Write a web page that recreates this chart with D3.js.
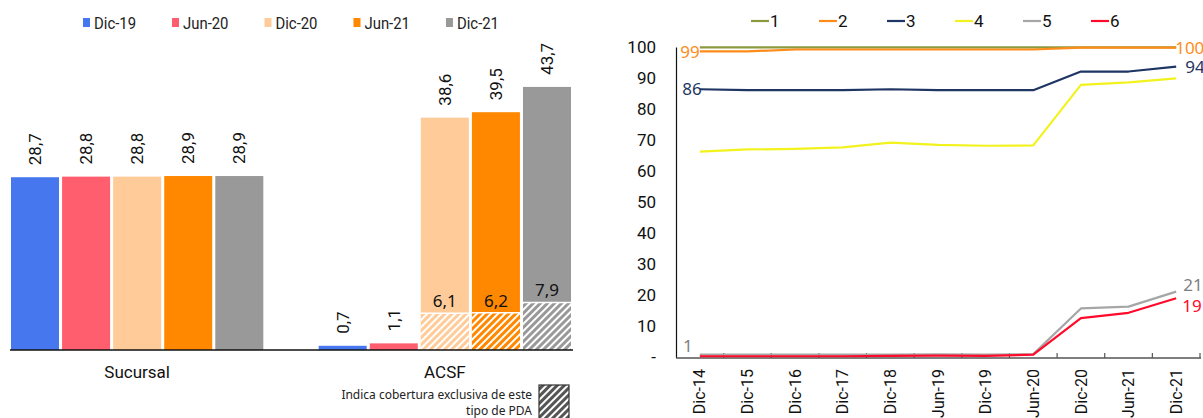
<!DOCTYPE html>
<html><head><meta charset="utf-8">
<script src="https://cdn.jsdelivr.net/npm/d3@7"></script>
<style>
html,body{margin:0;padding:0;background:#fff;}
svg{display:block;}
text{font-family:Roboto,"Noto Sans",sans-serif;}
</style></head>
<body>
<svg id="chart" width="1203" height="418"></svg>
<script>
// ---------- DATA ----------
const barCategories = ["Sucursal", "ACSF"];
const barSeries = ["Dic-19", "Jun-20", "Dic-20", "Jun-21", "Dic-21"];
const sucursalValues = [28.7, 28.8, 28.8, 28.9, 28.9];
const acsfValues = [0.7, 1.1, 38.6, 39.5, 43.7];
const acsfExclusive = [null, null, 6.1, 6.2, 7.9];
const noteLines = ["Indica cobertura exclusiva de este", "tipo de PDA"];

const lineDates = ["Dic-14","Dic-15","Dic-16","Dic-17","Dic-18","Jun-19","Dic-19","Jun-20","Dic-20","Jun-21","Dic-21"];
const lineNames = ["1", "2", "3", "4", "5", "6"];
const series1 = [99.9, 99.9, 99.9, 99.9, 99.9, 99.9, 99.9, 99.9, 99.9, 99.9, 99.9];
const series2 = [98.6, 98.6, 99.2, 99.2, 99.2, 99.2, 99.2, 99.2, 99.8, 99.8, 99.8];
const series3 = [86.4, 86.1, 86.1, 86.1, 86.4, 86.1, 86.1, 86.1, 92.1, 92.1, 93.7];
const series4 = [66.3, 67.0, 67.2, 67.7, 69.2, 68.5, 68.2, 68.3, 87.8, 88.6, 89.9];
const series5 = [0.9, 0.9, 0.9, 0.9, 0.9, 1.0, 0.9, 1.1, 15.8, 16.4, 21.2];
const series6 = [0.4, 0.4, 0.4, 0.4, 0.5, 0.6, 0.5, 0.9, 12.7, 14.4, 19.1];
const yTicks = [0, 10, 20, 30, 40, 50, 60, 70, 80, 90, 100];

// ---------- STYLE ----------
const barColors = ["#4677EE", "#FF5E6E", "#FFCC99", "#FF8800", "#999999"];
const lineColors = ["#8C9A3D", "#FF8C1A", "#1F3564", "#F2F21E", "#A6A6A6", "#FF0A2A"];
const labelColors = ["#8C9A3D", "#FF8C1A", "#1F3564", "#F2F21E", "#808080", "#FF0A2A"];

const svg = d3.select("#chart");
const defs = svg.append("defs");
function hatch(id, color, stripe) {
  const p = defs.append("pattern").attr("id", id).attr("patternUnits", "userSpaceOnUse")
    .attr("width", 5).attr("height", 5).attr("patternTransform", "rotate(45)");
  p.append("rect").attr("width", 5).attr("height", 5).attr("fill", "#fff");
  p.append("rect").attr("width", 3).attr("height", 5).attr("fill", stripe || color);
  return `url(#${id})`;
}
const hatchFills = barColors.map((c, i) => hatch("h" + i, c));
const noteFill = hatch("hnote", "#555", "#555");

const fmt = v => d3.format(".1f")(v).replace(".", ",");

// ---------- LEFT: BAR CHART ----------
const baseY = 350;
const yL = d3.scaleLinear().domain([0, 45]).range([baseY, baseY - 45 * 6.02]);
const x0 = d3.scaleBand().domain(barCategories).range([11, 571]).paddingInner(0.18).paddingOuter(0);
const x1 = d3.scaleBand().domain(barSeries).range([0, x0.bandwidth()]).paddingInner(0.06).paddingOuter(0);

const groups = [
  {cat: "Sucursal", values: sucursalValues, excl: barSeries.map(() => null)},
  {cat: "ACSF", values: acsfValues, excl: acsfExclusive}
];

const gBars = svg.append("g");
groups.forEach(g => {
  g.values.forEach((v, i) => {
    const bx = x0(g.cat) + x1(barSeries[i]);
    const bw = x1.bandwidth();
    gBars.append("rect").attr("x", bx).attr("y", yL(v)).attr("width", bw)
      .attr("height", baseY - yL(v)).attr("fill", barColors[i]);
    const e = g.excl[i];
    if (e != null) {
      gBars.append("rect").attr("x", bx).attr("y", yL(e)).attr("width", bw)
        .attr("height", baseY - yL(e)).attr("fill", hatchFills[i]);
      gBars.append("line").attr("x1", bx).attr("x2", bx + bw).attr("y1", yL(e)).attr("y2", yL(e))
        .attr("stroke", "#fff").attr("stroke-width", 1.5);
      gBars.append("text").attr("x", bx + bw / 2).attr("y", yL(e) - 6)
        .attr("text-anchor", "middle").attr("font-size", 17)
        .style("font-family", "'Noto Sans', sans-serif").attr("fill", "#111").text(fmt(e));
    }
    gBars.append("text")
      .attr("transform", `translate(${bx + bw / 2},${yL(v) - 12}) rotate(-90)`)
      .attr("dy", "0.35em").attr("text-anchor", "start").attr("font-size", 17)
      .attr("fill", "#111").text(fmt(v));
  });
  gBars.append("text").attr("x", x0(g.cat) + x0.bandwidth() / 2).attr("y", 378)
    .attr("text-anchor", "middle").attr("font-size", 17).attr("fill", "#111").text(g.cat);
});
svg.append("line").attr("x1", 10).attr("x2", 573).attr("y1", baseY).attr("y2", baseY)
  .attr("stroke", "#111").attr("stroke-width", 1.5);

// left legend
let lx = 83;
barSeries.forEach((s, i) => {
  svg.append("rect").attr("x", lx).attr("y", 18).attr("width", 7).attr("height", 9).attr("fill", barColors[i]);
  const t = svg.append("text").attr("x", lx + 11).attr("y", 29).attr("font-size", 16)
    .attr("fill", "#222").text(s);
  const w = t.node().getComputedTextLength();
  const target = w * 0.93;
  t.attr("textLength", target).attr("lengthAdjust", "spacingAndGlyphs");
  lx += 11 + target + 36;
});

// note
noteLines.forEach((l, i) => {
  svg.append("text").attr("x", 532).attr("y", 399 + i * 16).attr("text-anchor", "end")
    .attr("font-size", 12).style("font-family", "'Noto Sans', sans-serif").attr("fill", "#222").text(l);
});
svg.append("rect").attr("x", 539).attr("y", 385).attr("width", 30).attr("height", 40)
  .attr("fill", noteFill).attr("stroke", "#333").attr("stroke-width", 1.2);

// ---------- RIGHT: LINE CHART ----------
const allSeries = [series1, series2, series3, series4, series5, series6];
const xR = d3.scaleBand().domain(lineDates).range([676, 1200]).padding(0);
const yR = d3.scaleLinear().domain([0, 100]).range([357.5, 47]);
const px = d => xR(d) + xR.bandwidth() / 2;

// y axis
const yAxis = d3.axisLeft(yR).tickValues(yTicks).tickSize(0).tickPadding(20)
  .tickFormat(d => d === 0 ? "-" : d);
const gy = svg.append("g").attr("transform", "translate(676,0)").call(yAxis);
gy.select(".domain").attr("stroke", "#111").attr("stroke-width", 1.2);
gy.selectAll("text").attr("font-size", 17).attr("fill", "#111").style("font-family", "Roboto");

// x axis
const gx = svg.append("g").attr("transform", "translate(0,358)");
gx.append("line").attr("x1", 676).attr("x2", 1201).attr("stroke", "#555").attr("stroke-width", 1.5);
const bounds = lineDates.map(d => xR(d)).concat([xR(lineDates[lineDates.length - 1]) + xR.bandwidth()]).slice(1);
gx.selectAll(".tk").data(bounds).enter().append("line")
  .attr("x1", d => d).attr("x2", d => d).attr("y1", 0).attr("y2", -5)
  .attr("stroke", "#555").attr("stroke-width", 1.2);
gx.selectAll(".xl").data(lineDates).enter().append("text")
  .attr("transform", d => `translate(${px(d)},11) rotate(-90)`)
  .attr("dy", "0.35em").attr("text-anchor", "end").attr("font-size", 16).attr("fill", "#111")
  .text(d => d);

// lines
const lineGen = d3.line().x((d, i) => px(lineDates[i])).y(d => yR(d));
allSeries.forEach((s, k) => {
  svg.append("path").datum(s).attr("d", lineGen).attr("fill", "none")
    .attr("stroke", lineColors[k]).attr("stroke-width", 2.2).attr("stroke-linejoin", "round");
});

// data labels (series index, point index, anchor, dx, dy)
const last = lineDates.length - 1;
const lineLabels = [
  [1, 0, "end", 0, 1],
  [2, 0, "end", 2, 0],
  [4, 0, "end", -7, -9],
  [1, last, "start", -1, 0],
  [2, last, "start", 9, 0],
  [4, last, "start", 7, -7],
  [5, last, "start", 6, 8]
];
lineLabels.forEach(([k, i, anchor, dx, dy]) => {
  const v = allSeries[k][i];
  svg.append("text").attr("x", px(lineDates[i]) + dx).attr("y", yR(v) + dy)
    .attr("dy", "0.35em").attr("text-anchor", anchor).attr("font-size", 17)
    .style("font-family", "'Noto Sans', sans-serif").attr("fill", labelColors[k])
    .text(Math.round(v));
});

// right legend
lineNames.forEach((n, k) => {
  const lxr = 751 + k * 68;
  svg.append("line").attr("x1", lxr).attr("x2", lxr + 18).attr("y1", 21).attr("y2", 21)
    .attr("stroke", lineColors[k]).attr("stroke-width", 2.2);
  svg.append("text").attr("x", lxr + 19).attr("y", 21).attr("dy", "0.35em")
    .attr("font-size", 17).attr("fill", "#111").text(n);
});
</script>
</body></html>
